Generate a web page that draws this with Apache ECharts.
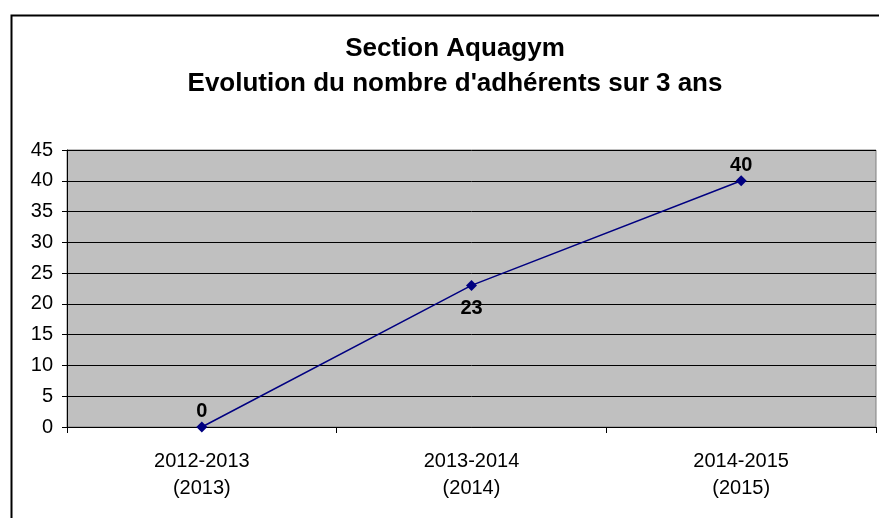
<!DOCTYPE html>
<html>
<head>
<meta charset="utf-8">
<script src="https://cdn.jsdelivr.net/npm/echarts@6/dist/echarts.min.js"></script>
<style>
  html, body { margin: 0; padding: 0; background: #fff; }
  #chart { width: 879px; height: 518px; }
</style>
</head>
<body>
<div id="chart"></div>
<script>
const categories = ["2012-2013\n(2013)", "2013-2014\n(2014)", "2014-2015\n(2015)"];
const adherents = [0, 23, 40];
const labelPositions = ["top", "bottom", "top"];
const yTicks = { min: 0, max: 45, interval: 5 };

const chart = echarts.init(document.getElementById("chart"));

const font = "Arial, 'Liberation Sans', sans-serif";

chart.setOption({
  animation: false,
  backgroundColor: "#fff",
  title: {
    text: "Section Aquagym\nEvolution du nombre d'adhérents sur 3 ans",
    left: 450,
    top: 26,
    textAlign: "center",
    textStyle: {
      fontFamily: font,
      fontSize: 26,
      fontWeight: "bold",
      color: "#000",
      lineHeight: 35,
    },
  },
  graphic: [
    {
      type: "rect",
      left: 9,
      top: 13,
      shape: { width: 900, height: 600 },
      style: { fill: "none", stroke: "#000", lineWidth: 2 },
      silent: true,
    },
  ],
  grid: {
    left: 67,
    right: 3,
    top: 150,
    bottom: 91,
    show: true,
    backgroundColor: "#c0c0c0",
    borderColor: "#808080",
    borderWidth: 1,
  },
  xAxis: {
    type: "category",
    data: categories,
    boundaryGap: true,
    axisLine: { lineStyle: { color: "#000", width: 1 } },
    axisTick: { show: true, length: 6, lineStyle: { color: "#000" } },
    axisLabel: {
      fontFamily: font,
      fontSize: 20,
      color: "#000",
      lineHeight: 27,
      margin: 21,
    },
  },
  yAxis: {
    type: "value",
    min: yTicks.min,
    max: yTicks.max,
    interval: yTicks.interval,
    axisLine: { show: true, lineStyle: { color: "#000", width: 1 } },
    axisTick: { show: true, length: 5, lineStyle: { color: "#000" } },
    splitLine: { lineStyle: { color: "#000", width: 1 } },
    axisLabel: {
      fontFamily: font,
      fontSize: 20,
      color: "#000",
      margin: 14,
    },
  },
  series: [
    {
      type: "line",
      data: adherents.map((v, i) => ({
        value: v,
        label: {
          position: labelPositions[i],
          distance: labelPositions[i] === "top" ? 0 : 8,
        },
      })),
      symbol: "diamond",
      symbolSize: 11,
      lineStyle: { color: "#000080", width: 1.5 },
      itemStyle: { color: "#000080" },
      label: {
        show: true,
        fontFamily: font,
        fontSize: 20,
        fontWeight: "bold",
        color: "#000",
      },
    },
  ],
});
</script>
</body>
</html>
